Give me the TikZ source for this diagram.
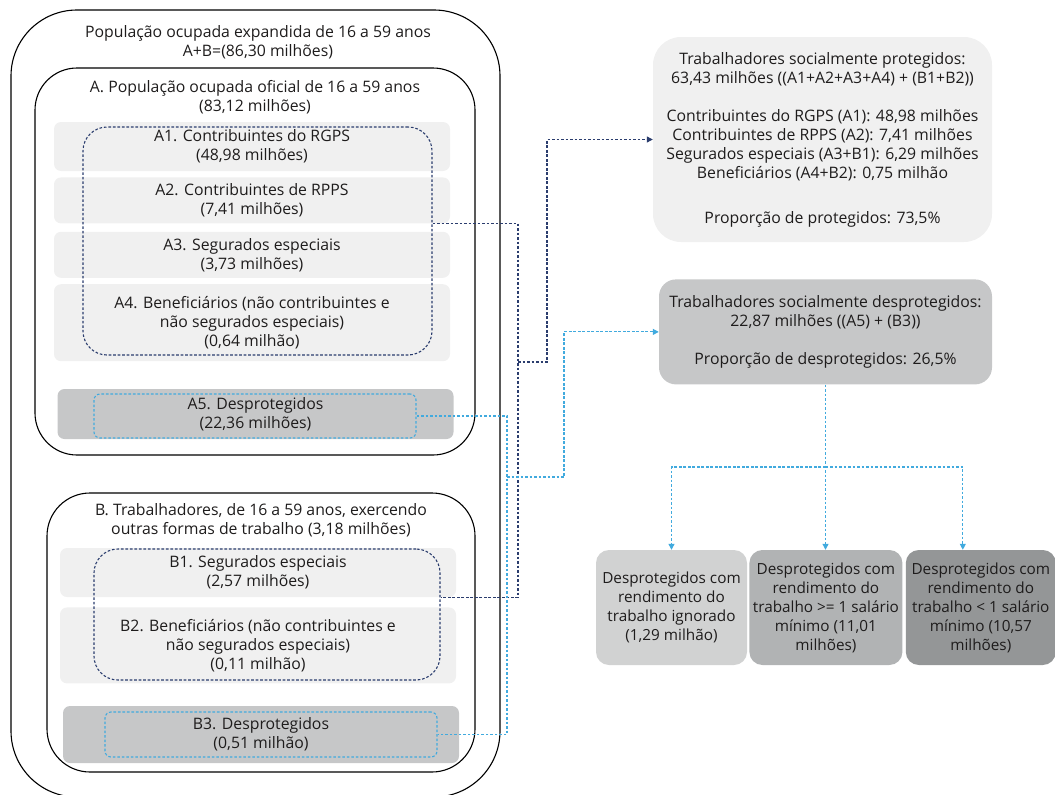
\documentclass[tikz,border=0pt]{standalone}
\usepackage{fontspec}
\setmainfont{Open Sans}
\usetikzlibrary{arrows.meta, positioning, calc}
\definecolor{textcolor}{RGB}{30, 28, 28}
\definecolor{itemcolor}{RGB}{240, 240, 240}
\definecolor{uncolor}{RGB}{198, 199, 200}
\definecolor{navycolor}{RGB}{43, 61, 110}
\definecolor{skycolor}{RGB}{65, 170, 222}
\definecolor{lowcolorA}{RGB}{209, 210, 210}
\definecolor{lowcolorB}{RGB}{177, 179, 180}
\definecolor{lowcolorC}{RGB}{148, 150, 151}
\tikzset{
    % Base styles
    basetext/.style={text=textcolor, align=center, font=\fontsize{15.8}{19}\selectfont},
    groupbox/.style={draw=black, line width=1.1pt, inner sep=0pt},
    titlenode/.style={basetext, inner sep=0pt},
    % Item boxes
    itembox/.style={basetext, fill=itemcolor, rounded corners=7pt, minimum width=396pt, inner sep=0pt},
    unbox/.style={itembox, fill=uncolor},
    % Dashed frames
    protdash/.style={draw=navycolor, line width=1.1pt, dash pattern=on 2.6pt off 1.9pt, rounded corners=24pt, inner sep=0pt},
    undash/.style={protdash, draw=skycolor, rounded corners=6pt},
    % Summary boxes
    sumbox/.style={basetext, inner sep=0pt},
    lowbox/.style={basetext, font=\fontsize{15.3}{19}\selectfont, rounded corners=13pt, minimum height=115pt, inner sep=0pt},
    % Arrows
    navyline/.style={draw=navycolor, line width=1.1pt, dash pattern=on 2.6pt off 1.9pt},
    skyline/.style={navyline, draw=skycolor},
    navyarrow/.style={navyline, -{Triangle[length=6pt, width=6pt]}},
    skyarrow/.style={skyline, -{Triangle[length=6pt, width=6pt]}},
}

\begin{document}
\begin{tikzpicture}[x=1pt, y=-1pt]
\useasboundingbox (0,0) rectangle (1055,795);

% Expanded population
\node[groupbox, rounded corners=66pt, minimum width=489pt, minimum height=787pt] (expanded) at (255.5,403.5) {};
\node[titlenode] (expandedtitle) at (258,42.5) {População ocupada expandida de 16 a 59 anos\\A+B=(86,30 milhões)};

% Group A
\node[groupbox, rounded corners=42pt, minimum width=440pt, minimum height=387pt] (official) at (255,261.5) {};
\node[titlenode] (officialtitle) at (255,97.5) {A. População ocupada oficial de 16 a 59 anos\\(83,12 milhões)};

\node[itembox, minimum height=49pt] (a1) at (252,146.5) {A1. Contribuintes do RGPS\\(48,98 milhões)};
\node[itembox, minimum height=46pt, below=6pt of a1] (a2) {A2. Contribuintes de RPPS\\(7,41 milhões)};
\node[itembox, minimum height=46pt, below=8pt of a2] (a3) {A3. Segurados especiais\\(3,73 milhões)};
\node[itembox, minimum height=77pt, below=6pt of a3] (a4) {A4. Beneficiários (não contribuintes e\\não segurados especiais)\\(0,64 milhão)};
\node[unbox, minimum height=50pt] (a5) at (255.5,414) {A5. Desprotegidos\\(22,36 milhões)};

\node[protdash, minimum width=349pt, minimum height=228pt] (protA) at (257.5,241) {};
\node[undash, minimum width=322pt, minimum height=44pt] (unA) at (255,416) {};

% Group B
\node[groupbox, rounded corners=43pt, minimum width=428pt, minimum height=279pt] (other) at (261,632.5) {};
\node[titlenode] (othertitle) at (261,520.5) {B. Trabalhadores, de 16 a 59 anos, exercendo\\outras formas de trabalho (3,18 milhões)};

\node[itembox, minimum height=49pt] (b1) at (258,572.5) {B1. Segurados especiais\\(2,57 milhões)};
\node[itembox, minimum height=76pt, below=10pt of b1] (b2) {B2. Beneficiários (não contribuintes e\\não segurados especiais)\\(0,11 milhão)};
\node[unbox, minimum height=57pt] (b3) at (261,734.5) {B3. Desprotegidos\\(0,51 milhão)};

\node[protdash, minimum width=346pt, minimum height=131pt] (protB) at (267,614.5) {};
\node[undash, minimum width=332pt, minimum height=45pt] (unB) at (271,734.5) {};

% Summaries
\node[sumbox, fill=itemcolor, rounded corners=28pt, minimum width=339pt, minimum height=205pt] (protected) at (822.5,139.5) {
    Trabalhadores socialmente protegidos:\\
    63,43 milhões ((A1+A2+A3+A4) + (B1+B2))\\[19pt]
    Contribuintes do RGPS (A1): 48,98 milhões\\
    Contribuintes de RPPS (A2): 7,41 milhões\\
    Segurados especiais (A3+B1): 6,29 milhões\\
    Beneficiários (A4+B2): 0,75 milhão\\[26pt]
    Proporção de protegidos: 73,5\%
};

\node[sumbox, fill=uncolor, rounded corners=17pt, minimum width=333pt, minimum height=105pt, below=37pt of protected, xshift=3pt] (unprotected) {
    Trabalhadores socialmente desprotegidos:\\
    22,87 milhões ((A5) + (B3))\\[19pt]
    Proporção de desprotegidos: 26,5\%
};

% Income split
\node[lowbox, fill=lowcolorA, minimum width=151pt] (ignored) at (671.5,607.5) {Desprotegidos com\\rendimento do\\trabalho ignorado\\(1,29 milhão)};
\node[lowbox, fill=lowcolorB, minimum width=153pt, right=2pt of ignored] (atleastmin) {Desprotegidos com\\rendimento do\\trabalho >= 1 salário\\mínimo (11,01\\milhões)};
\node[lowbox, fill=lowcolorC, minimum width=150pt, right=3pt of atleastmin] (belowmin) {Desprotegidos com\\rendimento do\\trabalho < 1 salário\\mínimo (10,57\\milhões)};

% Connectors
\coordinate (navybus) at (518,362);
\coordinate (navyturn) at (547,362);
\coordinate (skybus) at (507,477);
\coordinate (skyturn) at (564,477);
\coordinate (fork) at (unprotected.south |- 0,467);

\draw[navyline] (protA.east |- a2.south) -| (navybus |- b1.south) -- (protB.east |- b1.south);
\draw[navyarrow] (navybus) -- (navyturn) |- (protected.west);
\draw[skyline] (unA.east) -| (skybus |- unB.east) -- (unB.east);
\draw[skyarrow] (skybus) -- (skyturn) |- (unprotected.west);
\draw[skyarrow] (unprotected.south) -- (unprotected.south |- atleastmin.north);
\draw[skyarrow] (fork) -| (ignored.north);
\draw[skyarrow] (fork) -| ($(belowmin.north)+(-18,0)$);

\end{tikzpicture}
\end{document}
